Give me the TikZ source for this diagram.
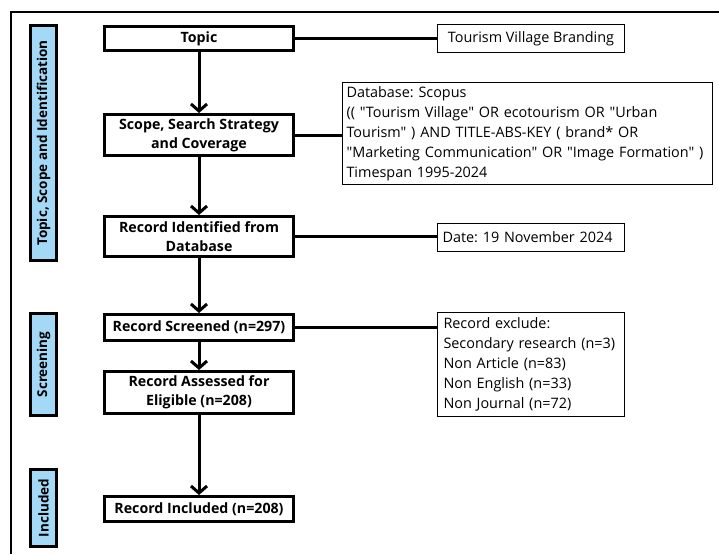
\documentclass[tikz,border=0pt]{standalone}
\usepackage{fontspec}
\setmainfont{Open Sans}[Ligatures=TeXOff]
\usetikzlibrary{arrows.meta}
\definecolor{sideblue}{RGB}{163,217,246}
\tikzset{
  mainbox/.style={draw=black, line width=3pt, fill=white, align=center, font=\bfseries\fontsize{14.2}{19}\selectfont, minimum width=189pt, inner sep=1pt},
  infobox/.style={draw=black, line width=1.4pt, fill=white, align=left, font=\frenchspacing\fontsize{14.4}{20}\selectfont, inner xsep=5pt, inner ysep=3pt},
  sidebar/.style={draw=black, line width=3pt, fill=sideblue, rotate=90, font=\bfseries\fontsize{13.5}{16}\selectfont, minimum height=26pt, inner sep=0pt},
  flowarrow/.style={line width=3pt, -{Straight Barb[length=7pt,width=16pt,line width=3pt]}},
  link/.style={line width=3pt},
  frame/.style={line width=1.3pt}
}
\begin{document}
\begin{tikzpicture}[x=1pt,y=-1pt]
\useasboundingbox (0,0) rectangle (719,554);
% frame
\coordinate (fr1) at (719,12);
\coordinate (fr2) at (11,12);
\coordinate (fr3) at (11,554);
\draw[frame] (fr1) -- (fr2) -- (fr3);

% side bars
\node[sidebar, minimum width=235pt] (s1) at (43.5,143) {Topic, Scope and Identification};
\node[sidebar, minimum width=102pt] (s2) at (43.5,364.5) {Screening};
\node[sidebar, minimum width=77pt] (s3) at (43.5,508) {Included};

% main boxes
\node[mainbox, minimum height=24pt] (topic) at (199,38.5) {Topic};
\node[mainbox, minimum height=41pt] (scope) at (199,135) {Scope, Search Strategy\\and Coverage};
\node[mainbox, minimum height=40pt] (ident) at (199,236.5) {Record Identified from\\Database};
\node[mainbox, minimum height=26pt] (screen) at (199,327.5) {Record Screened (n=297)};
\node[mainbox, minimum height=42pt] (assess) at (199,392.5) {Record Assessed for\\Eligible (n=208)};
\node[mainbox, minimum height=25pt] (incl) at (199,509) {Record Included (n=208)};

% info boxes
\node[infobox, minimum width=187pt, minimum height=28pt, align=center] (tvb) at (531,38.5) {Tourism Village Branding};
\node[infobox, text width=362pt, inner xsep=4pt, minimum height=102pt] (db) at (527.5,133.5) {Database: Scopus\\
(( "Tourism Village" OR ecotourism OR "Urban\\
Tourism" ) AND TITLE-ABS-KEY ( brand* OR\\
"Marketing Communication" OR "Image Formation" )\\
Timespan 1995-2024};
\node[infobox, text width=177pt, minimum height=28pt] (date) at (531,237.5) {Date: 19 November 2024};
\node[infobox, text width=175pt, inner xsep=6pt, minimum height=104pt] (excl) at (531,364.5) {Record exclude:\\
Secondary research (n=3)\\
Non Article (n=83)\\
Non English (n=33)\\
Non Journal (n=72)};

% arrows
\draw[flowarrow] (topic) -- (scope);
\draw[flowarrow] (scope) -- (ident);
\draw[flowarrow] (ident) -- (screen);
\draw[flowarrow] (screen) -- (assess);
\draw[flowarrow] (assess) -- (incl);

% links
\draw[link] (topic.east) -- (topic.east -| tvb.west);
\draw[link] (scope.east) -- (scope.east -| db.west);
\draw[link] (ident.east) -- (ident.east -| date.west);
\draw[link] (screen.east) -- (screen.east -| excl.west);
\end{tikzpicture}
\end{document}
